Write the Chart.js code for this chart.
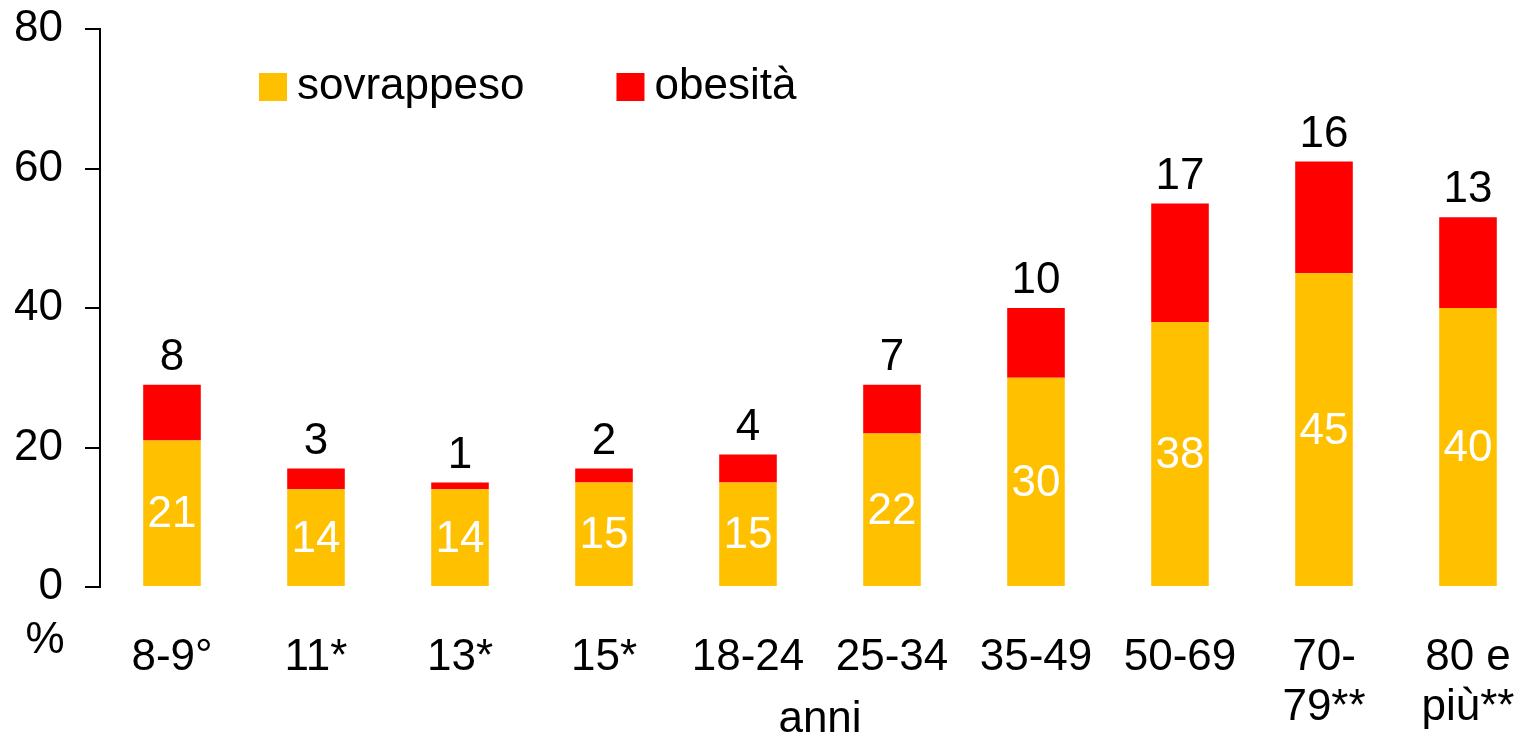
<!DOCTYPE html>
<html>
<head>
<meta charset="utf-8">
<script src="https://cdn.jsdelivr.net/npm/chart.js@4/dist/chart.umd.min.js"></script>
<style>
  html, body { margin: 0; padding: 0; background: #fff; overflow: hidden; }
  #wrap { width: 1560px; height: 737px; }
</style>
</head>
<body>
<div id="wrap"><canvas id="myChart"></canvas></div>
<script>
var age_groups = ['8-9°', '11*', '13*', '15*', '18-24', '25-34', '35-49', '50-69', ['70-', '79**'], ['80 e', 'più**']]
var sovrappeso = [21, 14, 14, 15, 15, 22, 30, 38, 45, 40]
var obesita = [8, 3, 1, 2, 4, 7, 10, 17, 16, 13]
var y_ticks = [0, 20, 40, 60, 80]

var FONT = 'Liberation Sans, Arial, sans-serif'

// value labels: white inside the yellow part, black above the red part
var valueLabels = {
    id: 'valueLabels',
    afterDatasetsDraw(chart) {
        var ctx = chart.ctx
        ctx.save()
        ctx.font = '44px ' + FONT
        ctx.textAlign = 'center'
        ctx.textBaseline = 'middle'
        var m0 = chart.getDatasetMeta(0)
        var m1 = chart.getDatasetMeta(1)
        m0.data.forEach(function (bar, i) {
            ctx.fillStyle = '#fff'
            ctx.fillText(sovrappeso[i], bar.x, (bar.y + bar.base) / 2 + 2)
        })
        m1.data.forEach(function (bar, i) {
            ctx.fillStyle = '#000'
            ctx.fillText(obesita[i], bar.x, bar.y - 27)
        })
        ctx.restore()
    }
}

// legend inside the plot + the "%" unit under the y axis
var extras = {
    id: 'extras',
    afterDraw(chart) {
        var ctx = chart.ctx
        var a = chart.chartArea
        ctx.save()
        ctx.font = '44px ' + FONT
        ctx.textBaseline = 'middle'
        ctx.textAlign = 'left'
        var x = a.left + 159
        var y = 87
        chart.data.datasets.forEach(function (ds) {
            ctx.fillStyle = ds.backgroundColor
            ctx.fillRect(x, y - 14, 28, 28)
            ctx.fillStyle = '#000'
            ctx.fillText(ds.label, x + 38, y)
            x += 38 + ctx.measureText(ds.label).width + 92
        })
        ctx.textAlign = 'center'
        ctx.fillText('%', 45, a.bottom + 54)
        ctx.restore()
    }
}

let myChart = document.getElementById('myChart').getContext('2d')
let obesityChart = new Chart(myChart, {
    type: 'bar',
    data: {
        labels: age_groups,
        datasets: [{
            label: 'sovrappeso',
            data: sovrappeso,
            backgroundColor: '#FFC000',
            barPercentage: 0.4,
            categoryPercentage: 1
        }, {
            label: 'obesità',
            data: obesita,
            backgroundColor: '#FF0000',
            barPercentage: 0.4,
            categoryPercentage: 1
        }]
    },
    options: {
        responsive: true,
        maintainAspectRatio: false,
        animation: false,
        layout: { padding: { top: 29, right: 20, left: 0, bottom: 0 } },
        plugins: {
            legend: { display: false },
            tooltip: { enabled: false }
        },
        scales: {
            x: {
                stacked: true,
                grid: { display: false },
                border: { display: false },
                ticks: {
                    color: '#000',
                    font: { family: FONT, size: 44, lineHeight: 1.13 },
                    padding: 38,
                    maxRotation: 0,
                    autoSkip: false
                },
                title: {
                    display: true,
                    text: 'anni',
                    color: '#000',
                    font: { family: FONT, size: 44, lineHeight: 0.8 },
                    padding: { top: 0, bottom: 0 }
                },
                afterFit(scale) {
                    scale.height = 150
                    scale.paddingLeft = 0
                    scale.paddingRight = 0
                }
            },
            y: {
                stacked: true,
                min: 0,
                max: 80,
                afterBuildTicks(scale) { scale.ticks = y_ticks.map(v => ({ value: v })) },
                grid: {
                    drawOnChartArea: false,
                    drawTicks: true,
                    tickLength: 15,
                    color: '#000',
                    lineWidth: 2
                },
                border: { display: true, color: '#000', width: 2 },
                ticks: {
                    color: '#000',
                    font: { family: FONT, size: 44 },
                    padding: 22
                },
                afterFit(scale) {
                    scale.width = 100
                    scale.paddingTop = 0
                    scale.paddingBottom = 0
                }
            }
        }
    },
    plugins: [valueLabels, extras]
});
</script>
</body>
</html>
